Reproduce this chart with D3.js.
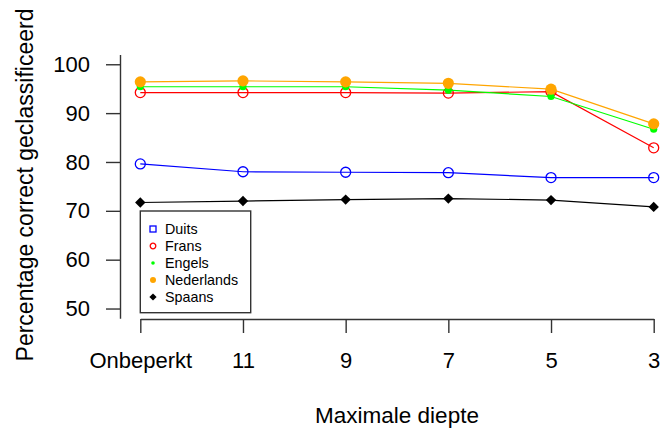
<!DOCTYPE html>
<html>
<head>
<meta charset="utf-8">
<script src="https://cdn.jsdelivr.net/npm/d3@7/dist/d3.min.js"></script>
<style>
  html, body { margin: 0; padding: 0; background: #ffffff; }
  svg { display: block; }
  text { font-family: "Liberation Sans", Arial, sans-serif; fill: #000; }
</style>
</head>
<body>
<svg id="chart" width="671" height="433"></svg>
<script>
const categories = ["Onbeperkt", "11", "9", "7", "5", "3"];
const yTicks = [50, 60, 70, 80, 90, 100];
const seriesNames = ["Duits", "Frans", "Engels", "Nederlands", "Spaans"];
const duits = [79.6, 78.0, 77.9, 77.8, 76.8, 76.8];
const frans = [94.2, 94.2, 94.2, 94.1, 94.4, 82.9];
const engels = [95.4, 95.4, 95.4, 94.7, 93.4, 86.7];
const nederlands = [96.4, 96.6, 96.4, 96.1, 94.9, 87.8];
const spaans = [71.7, 72.0, 72.3, 72.5, 72.2, 70.8];
const colors = ["#0000FF", "#FF0000", "#00FF00", "#FFA500", "#000000"];
const xTitle = "Maximale diepte";
const yTitle = "Percentage correct geclassificeerd";

const series = [duits, frans, engels, nederlands, spaans];

const svg = d3.select("#chart");
const x = d3.scalePoint().domain(categories).range([140.3, 653.7]);
const y = d3.scaleLinear().domain([48, 102]).range([318.3, 54.5]);

// Y axis
const yAxis = svg.append("g")
  .attr("transform", "translate(120,0)")
  .call(d3.axisLeft(y).tickValues(yTicks).tickSize(14).tickSizeOuter(0).tickPadding(16).tickFormat(d3.format("d")));
yAxis.select(".domain").attr("stroke", "#333").attr("stroke-width", 1.4);
yAxis.selectAll(".tick line").attr("stroke", "#333").attr("stroke-width", 1.4);
yAxis.selectAll(".tick text").attr("font-size", 22).attr("font-family", "Liberation Sans, Arial, sans-serif").attr("fill", "#000");

// X axis
const xAxis = svg.append("g")
  .attr("transform", "translate(0,319)")
  .call(d3.axisBottom(x).tickSize(14).tickSizeOuter(0).tickPadding(19));
xAxis.select(".domain").attr("stroke", "#333").attr("stroke-width", 1.4);
xAxis.selectAll(".tick line").attr("stroke", "#333").attr("stroke-width", 1.4);
xAxis.selectAll(".tick text").attr("font-size", 22).attr("font-family", "Liberation Sans, Arial, sans-serif").attr("fill", "#000");

// Axis titles
svg.append("text")
  .attr("x", 397).attr("y", 423)
  .attr("text-anchor", "middle")
  .attr("font-size", 22.5)
  .text(xTitle);
svg.append("text")
  .attr("transform", "translate(33,185) rotate(-90)")
  .attr("text-anchor", "middle")
  .attr("font-size", 23)
  .text(yTitle);

// Lines and markers
const line = d3.line().x((d, i) => x(categories[i])).y(d => y(d));

function marker(g, type, color, size) {
  if (type === "opencircle") {
    g.append("circle").attr("r", size).attr("fill", "none").attr("stroke", color).attr("stroke-width", 1.3);
  } else if (type === "filledcircle") {
    g.append("circle").attr("r", size).attr("fill", color).attr("stroke", "none");
  } else if (type === "square") {
    g.append("rect").attr("x", -size).attr("y", -size).attr("width", 2 * size).attr("height", 2 * size)
      .attr("fill", "none").attr("stroke", color).attr("stroke-width", 1.3);
  } else if (type === "diamond") {
    g.append("path").attr("d", `M0,${-size}L${size},0L0,${size}L${-size},0Z`).attr("fill", color);
  }
}

const plotMarkers = [["opencircle", 5], ["opencircle", 5], ["filledcircle", 3.6], ["filledcircle", 5.6], ["diamond", 5.2]];
const legendMarkers = [["square", 3], ["opencircle", 2.8], ["filledcircle", 1.8], ["filledcircle", 3], ["diamond", 3.6]];

series.forEach((vals, si) => {
  svg.append("path")
    .datum(vals)
    .attr("fill", "none")
    .attr("stroke", colors[si])
    .attr("stroke-width", 1.2)
    .attr("d", line);
  vals.forEach((v, i) => {
    const g = svg.append("g").attr("transform", `translate(${x(categories[i])},${y(v)})`);
    marker(g, plotMarkers[si][0], colors[si], plotMarkers[si][1]);
  });
});

// Legend
const legend = svg.append("g");
legend.append("rect")
  .attr("x", 140.3).attr("y", 211).attr("width", 110.4).attr("height", 101.7)
  .attr("fill", "#fff").attr("stroke", "#333").attr("stroke-width", 1.4);
seriesNames.forEach((name, i) => {
  const cy = 229 + i * 17;
  const g = legend.append("g").attr("transform", `translate(153,${cy})`);
  marker(g, legendMarkers[i][0], colors[i], legendMarkers[i][1]);
  legend.append("text")
    .attr("x", 165).attr("y", cy).attr("dy", "0.35em")
    .attr("font-size", 14.3)
    .text(name);
});
</script>
</body>
</html>
